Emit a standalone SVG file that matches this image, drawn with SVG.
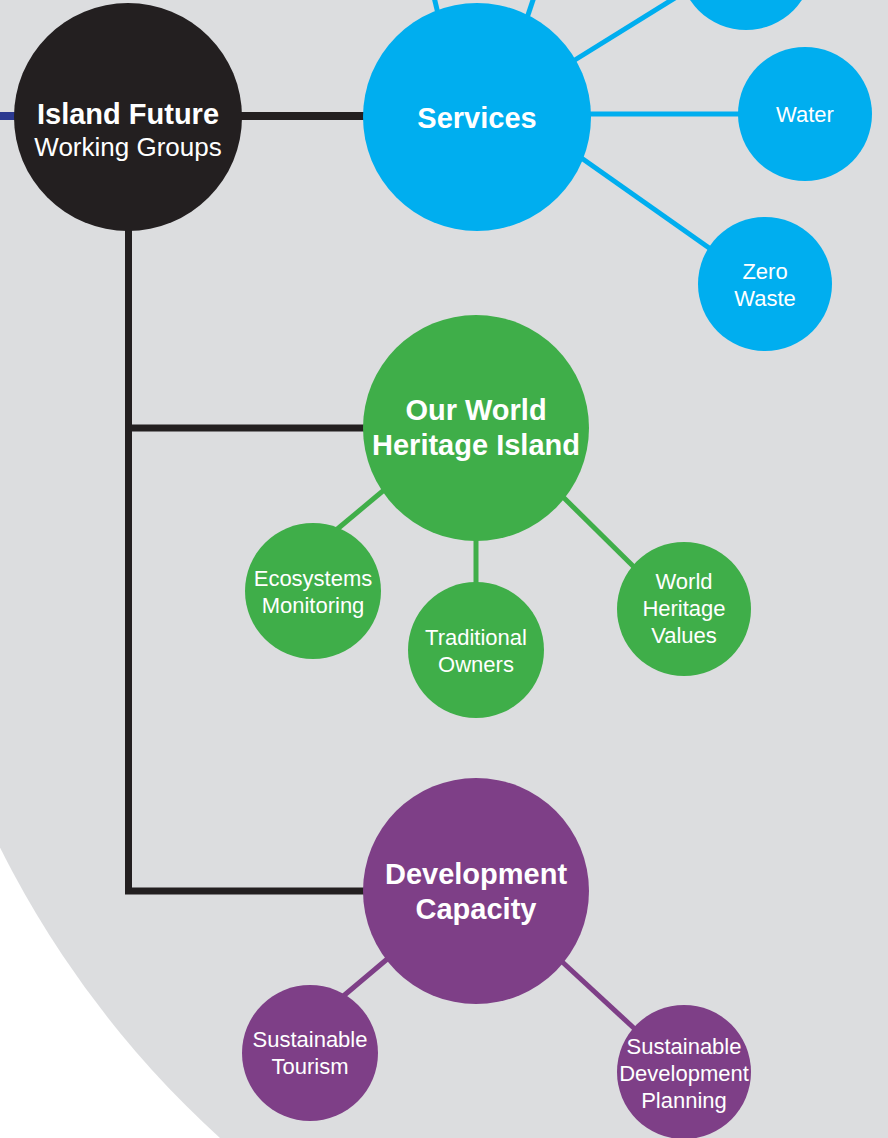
<svg xmlns="http://www.w3.org/2000/svg" width="888" height="1138" viewBox="0 0 888 1138">
<style>
.t{font-family:"Liberation Sans",Arial,sans-serif;fill:#fff;text-anchor:middle}
.b{font-weight:bold;font-size:29px}
.s{font-size:22px}
.blk{stroke:#231F20;fill:none;stroke-linecap:butt;stroke-linejoin:miter}
.bl{stroke:#00AEEF;stroke-width:5;fill:none}
.gr{stroke:#3FAE49;stroke-width:5;fill:none}
.pu{stroke:#7E3F87;stroke-width:5;fill:none}
.cb{fill:#00AEEF}.cg{fill:#3FAE49}.cp{fill:#7E3F87}
</style>
<rect width="888" height="1138" fill="#ffffff"/>
<circle cx="885" cy="406" r="989" fill="#DCDDDF"/>
<rect x="0" y="112" width="24" height="8" fill="#2B3990"/>
<g id="connectors">
<line class="blk" x1="230" y1="116" x2="370" y2="116" stroke-width="8"/>
<polyline class="blk" points="128.5,225 128.5,891 370,891" stroke-width="7"/>
<line class="blk" x1="128.5" y1="428" x2="370" y2="428" stroke-width="7"/>
<line class="bl" x1="439" y1="18" x2="430" y2="-20"/>
<line class="bl" x1="527" y1="18" x2="538" y2="-15"/>
<line class="bl" x1="570" y1="63" x2="720" y2="-30"/>
<line class="bl" x1="585" y1="114" x2="745" y2="114"/>
<line class="bl" x1="580" y1="157" x2="712" y2="250"/>
<line class="gr" x1="390" y1="485" x2="335" y2="531"/>
<line class="gr" x1="476" y1="535" x2="476" y2="588"/>
<line class="gr" x1="558" y1="492" x2="636" y2="569"/>
<line class="pu" x1="392" y1="955" x2="341" y2="998"/>
<line class="pu" x1="558" y1="958" x2="637" y2="1031"/>
</g>
<g id="island-future">
<circle cx="128" cy="117" r="114" fill="#231F20"/>
<text class="t b" x="128" y="124">Island Future</text>
<text class="t" x="128" y="156" font-size="26">Working Groups</text>
</g>
<g id="services">
<circle class="cb" cx="477" cy="117" r="114"/>
<text class="t b" x="477" y="128">Services</text>
</g>
<g id="services-top-right"><circle class="cb" cx="746" cy="-37" r="67"/></g>
<g id="water">
<circle class="cb" cx="805" cy="114" r="67"/>
<text class="t s" x="805" y="122">Water</text>
</g>
<g id="zero-waste">
<circle class="cb" cx="765" cy="284" r="67"/>
<text class="t s" x="765" y="279">Zero</text>
<text class="t s" x="765" y="306">Waste</text>
</g>
<g id="our-world-heritage-island">
<circle class="cg" cx="476" cy="428" r="113"/>
<text class="t b" x="476" y="420">Our World</text>
<text class="t b" x="476" y="455">Heritage Island</text>
</g>
<g id="ecosystems-monitoring">
<circle class="cg" cx="313" cy="591" r="68"/>
<text class="t s" x="313" y="586">Ecosystems</text>
<text class="t s" x="313" y="613">Monitoring</text>
</g>
<g id="traditional-owners">
<circle class="cg" cx="476" cy="650" r="68"/>
<text class="t s" x="476" y="645">Traditional</text>
<text class="t s" x="476" y="672">Owners</text>
</g>
<g id="world-heritage-values">
<circle class="cg" cx="684" cy="609" r="67"/>
<text class="t s" x="684" y="589">World</text>
<text class="t s" x="684" y="616">Heritage</text>
<text class="t s" x="684" y="643">Values</text>
</g>
<g id="development-capacity">
<circle class="cp" cx="476" cy="891" r="113"/>
<text class="t b" x="476" y="884">Development</text>
<text class="t b" x="476" y="919">Capacity</text>
</g>
<g id="sustainable-tourism">
<circle class="cp" cx="310" cy="1053" r="68"/>
<text class="t s" x="310" y="1047">Sustainable</text>
<text class="t s" x="310" y="1074">Tourism</text>
</g>
<g id="sustainable-development-planning">
<circle class="cp" cx="684" cy="1072" r="67"/>
<text class="t s" x="684" y="1054">Sustainable</text>
<text class="t s" x="684" y="1081">Development</text>
<text class="t s" x="684" y="1108">Planning</text>
</g>
</svg>
